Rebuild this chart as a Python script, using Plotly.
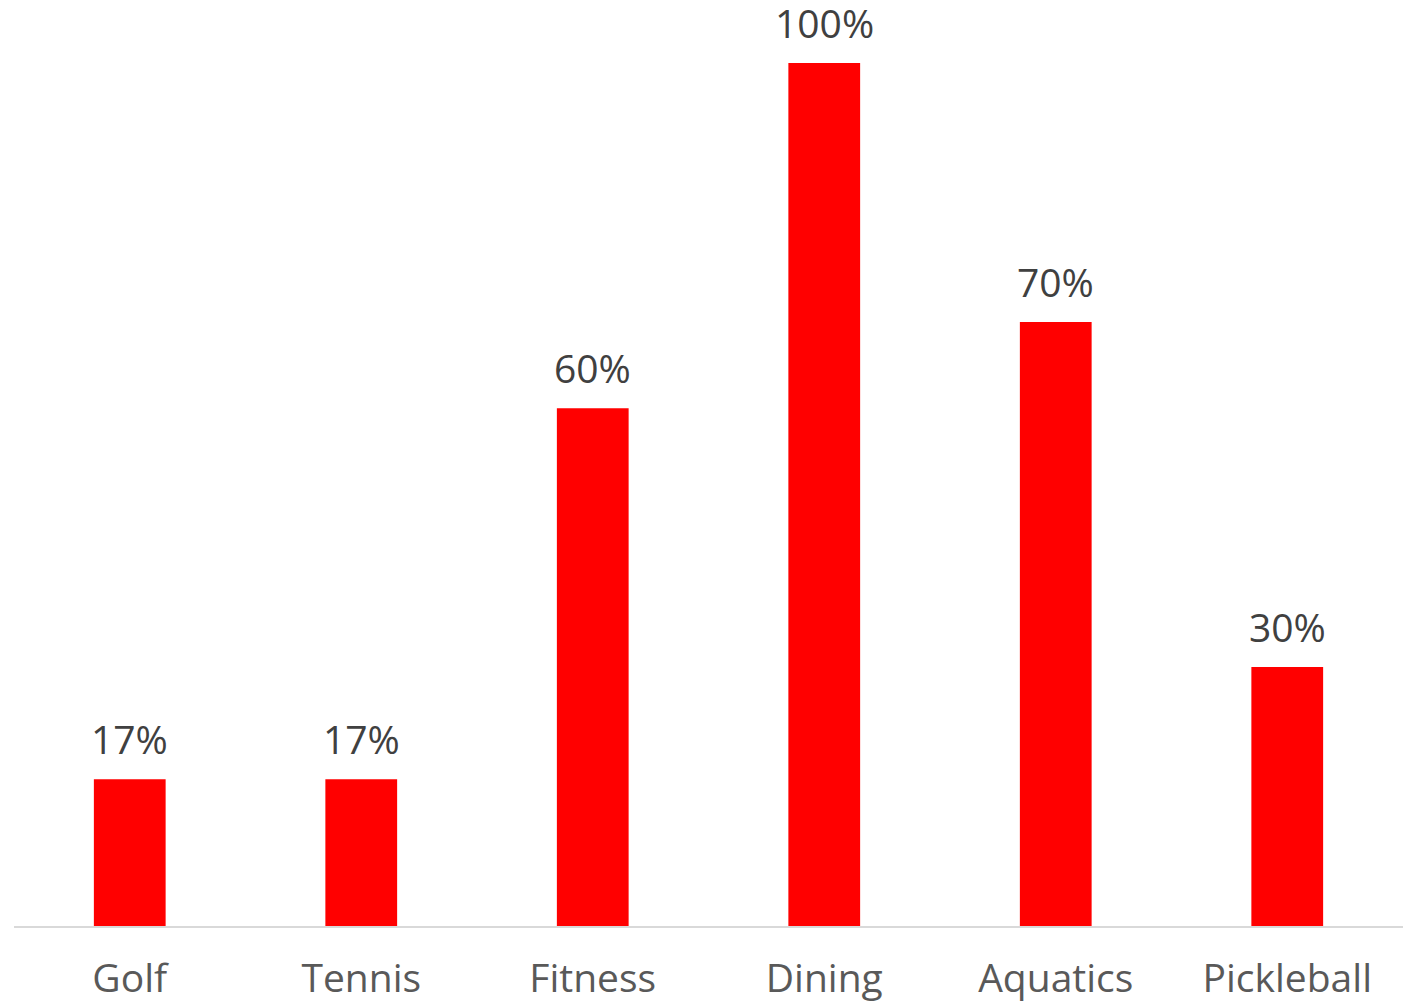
import plotly.graph_objects as go

categories = ["Golf", "Tennis", "Fitness", "Dining", "Aquatics", "Pickleball"]
values = [0.17, 0.17, 0.60, 1.00, 0.70, 0.30]
labels = ["17%", "17%", "60%", "100%", "70%", "30%"]

font_family = "Open Sans, Lato, sans-serif"

fig = go.Figure(go.Bar(
    x=categories, y=values,
    marker=dict(color="#FF0000", line=dict(width=0)),
    width=0.31,
    hoverinfo="skip",
))

for c, v, t in zip(categories, values, labels):
    fig.add_annotation(x=c, y=v, text=t, showarrow=False, yanchor="bottom",
                       yshift=12, font=dict(size=39, color="#404040", family=font_family))

# page body has an 8px default margin; sizes compensate for it
fig.update_layout(
    width=1407, height=994,
    margin=dict(l=6, r=12, t=55, b=76, autoexpand=False),
    plot_bgcolor="white", paper_bgcolor="white",
    showlegend=False,
    xaxis=dict(showline=True, linecolor="#D9D9D9", linewidth=1.5, ticks="",
               tickfont=dict(size=39, color="#595959", family=font_family),
               ticklabelstandoff=17, showgrid=False, zeroline=False, fixedrange=True,
               automargin=False),
    yaxis=dict(range=[0, 1.0], visible=False, showgrid=False, zeroline=False, fixedrange=True,
               automargin=False),
)

fig.write_html("out.html")
